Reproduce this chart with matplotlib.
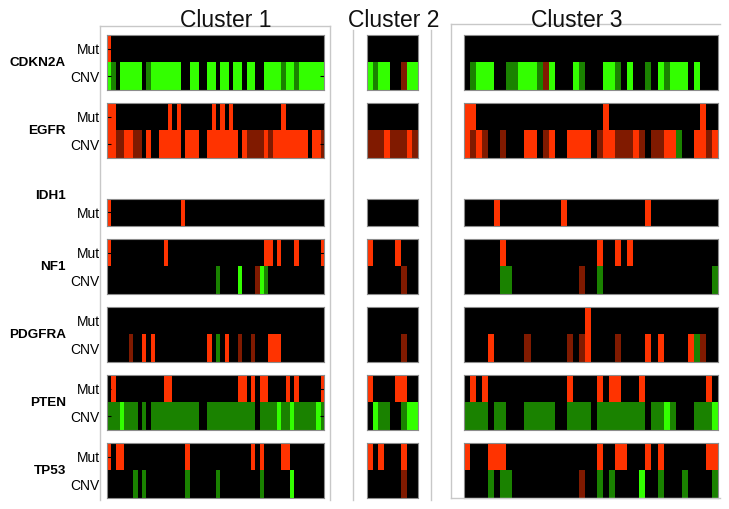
import numpy as np
import matplotlib
matplotlib.use('Agg')
import matplotlib.pyplot as plt
from matplotlib.colors import ListedColormap
from matplotlib.lines import Line2D

plt.rcParams['font.family'] = ['Liberation Sans', 'DejaVu Sans']

# genes and their rows, top to bottom
genes = ['CDKN2A', 'EGFR', 'IDH1', 'NF1', 'PDGFRA', 'PTEN', 'TP53']
gene_rows = [['Mut', 'CNV'], ['Mut', 'CNV'], ['Mut'], ['Mut', 'CNV'],
             ['Mut', 'CNV'], ['Mut', 'CNV'], ['Mut', 'CNV']]
clusters = ['Cluster 1', 'Cluster 2', 'Cluster 3']

# codes per sample: 0 none, 1 mutation/amplification, 2 gain, 3 loss, 4 deletion
cluster1_codes = [
    '10000000000000000000000000000000000000000000000000',  # CDKN2A Mut
    '43044444034444444004400440440440440044443443444444',  # CDKN2A CNV
    '11000000000000101000000010101000000000001000000000',  # EGFR Mut
    '11221122010011111011100111111101222212111111110112',  # EGFR CNV
    '10000000000000000100000000000000000000000000000000',  # IDH1 Mut
    '10000000000001000000000000000000000011010001000001',  # NF1 Mut
    '00000000000000000000000003000040002430000000000000',  # NF1 CNV
    '00000000000000000000000000000000000000000000000000',  # PDGFRA Mut
    '00000200101000000000000103010020020001110000000000',  # PDGFRA CNV
    '01000000000001100000000000000011010110000101000001',  # PTEN Mut
    '33343330303333333333300333333333330333343343333343',  # PTEN CNV
    '10110000000000000010000000000000010100001100000000',  # TP53 Mut
    '00000030300000000030000003000000000300000040000000',  # TP53 CNV
]

cluster2_codes = [
    '000000000',
    '434400244',
    '000000000',
    '222122212',
    '000000000',
    '100001000',
    '000000200',
    '000000000',
    '000000200',
    '100001100',
    '043300344',
    '101000100',
    '000000200',
]

cluster3_codes = [
    '000000000000000000000000000000000000000000',
    '034440033444324000430004430400304344404000',
    '110000000000000000000001000000000000000100',
    '121200200011021001111021122212022113001121',
    '000001000000000010000000000000100000000000',
    '000000100000000000000010010100000000000000',
    '000000330000000000020030000000000000000003',
    '000000000000000000001000000000000000000000',
    '000010000020000002021000020000101000013200',
    '010100000000000001000010110001000000000010',
    '333303300033333003333033333333033430003334',
    '100011100000000000000010011000101000000011',
    '000030330000000000020030300004003000300003',
]

colors = ['#000000', '#ff3300', '#801a00', '#1a8200', '#33ff00']
cmap = ListedColormap(colors)

W, H = 729, 509
fig = plt.figure(figsize=(W / 100, H / 100), dpi=100)

cluster_x = [(107.3, 324.3), (367.3, 417.7), (464.3, 718.3)]
title_x = [226, 394, 577]
row_h = 27.35

all_codes = [cluster1_codes, cluster2_codes, cluster3_codes]

# light frames around each cluster
frame_color = '#c8c8c8'
frames = [
    [(100, 100), (25.7, 500)], [(330, 330), (25.7, 500)], [(100, 330), (25.7, 25.7)],
    [(353.3, 353.3), (30, 500)], [(430.7, 430.7), (30, 500)],
    [(451, 451), (24.3, 498.3)], [(451, 720), (24.3, 24.3)], [(451, 720), (498.3, 498.3)],
]
for xs, ys in frames:
    fig.add_artist(Line2D([x / W for x in xs], [1 - y / H for y in ys],
                          color=frame_color, lw=1.0))

for ci, codes in enumerate(all_codes):
    x0, x1 = cluster_x[ci]
    r = 0
    for gi, gene in enumerate(genes):
        labels = gene_rows[gi]
        n = len(labels)
        mat = np.array([[int(c) for c in codes[r + k]] for k in range(n)])
        r += n
        top = 35.3 + 68 * gi
        if n == 1:
            top += row_h
        h = row_h * n
        ax = fig.add_axes([x0 / W, 1 - (top + h) / H, (x1 - x0) / W, h / H])
        ax.imshow(mat, cmap=cmap, vmin=-0.5, vmax=4.5, aspect='auto',
                  interpolation='nearest')
        for s in ax.spines.values():
            s.set_color('#8c8c8c')
            s.set_linewidth(0.8)
        ax.set_xticks([])
        if ci == 0:
            ax.set_yticks(range(n))
            ax.set_yticklabels(labels, fontsize=10)
            ax.tick_params(axis='y', direction='in', length=3, left=True,
                           right=True, color='k', pad=5.5)
            ymid = 1 - (35.3 + 68 * gi + row_h) / H
            if n == 1:
                ymid = 1 - (35.3 + 68 * gi + 24.5) / H
            fig.text(66 / W, ymid, gene, ha='right', va='center',
                     fontsize=9.7, fontweight='bold')
        else:
            ax.set_yticks([])

    fig.text(title_x[ci] / W, 1 - 27 / H, clusters[ci], ha='center',
             va='baseline', fontsize=16.5, color='#111111')

fig.savefig('out.png', dpi=100)
